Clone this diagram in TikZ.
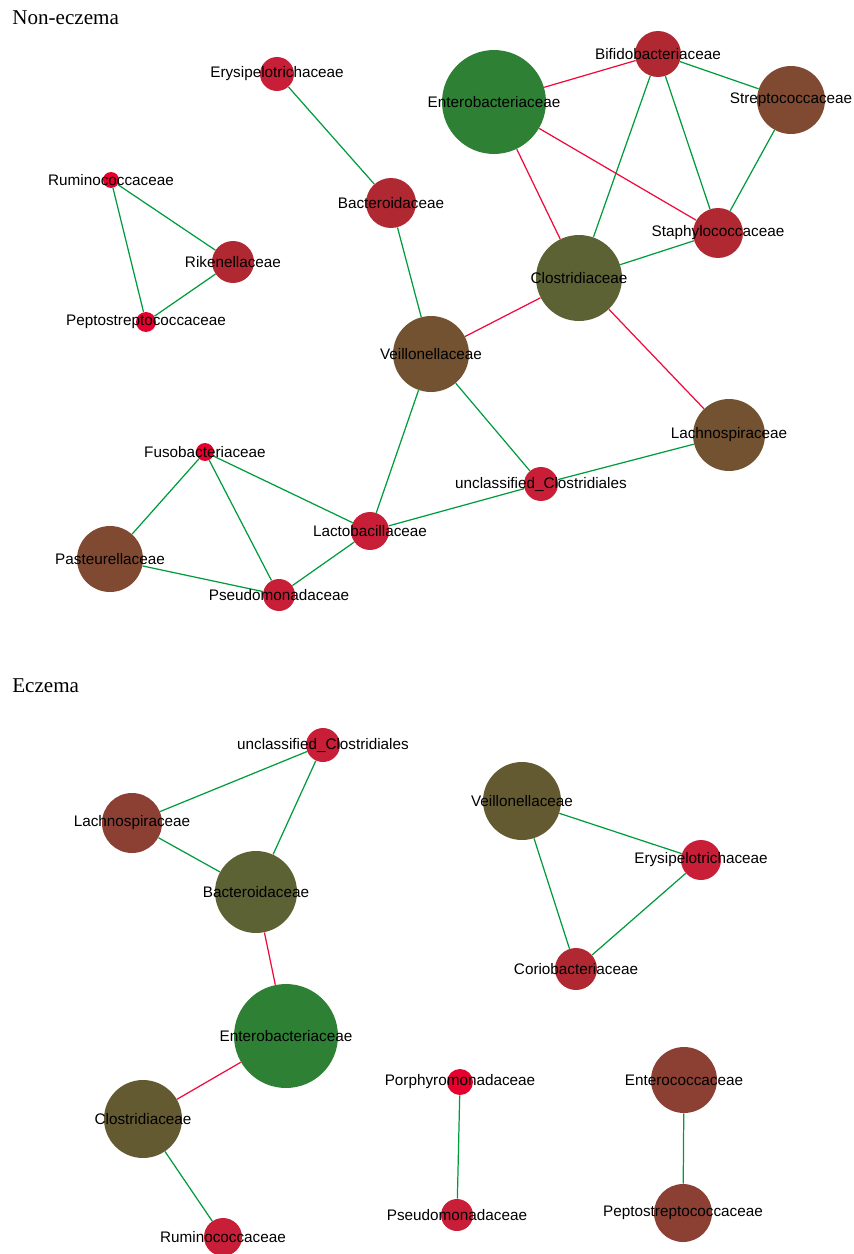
\documentclass[tikz,border=0pt]{standalone}
\usepackage{fontspec}
\setmainfont{Liberation Serif}
\setsansfont{Liberation Sans}
\usetikzlibrary{backgrounds}

\definecolor{linkpos}{RGB}{0,155,60}
\definecolor{linkneg}{RGB}{240,10,60}
\definecolor{cEntero}{RGB}{46,128,52}
\definecolor{cOlive}{RGB}{92,98,52}
\definecolor{cOliveB}{RGB}{100,90,50}
\definecolor{cBrownA}{RGB}{115,82,50}
\definecolor{cBrownB}{RGB}{128,74,50}
\definecolor{cBrownC}{RGB}{140,64,52}
\definecolor{cRedA}{RGB}{176,40,50}
\definecolor{cRedB}{RGB}{200,30,55}
\definecolor{cRedC}{RGB}{230,0,45}

\tikzset{
    taxon/.style={circle,inner sep=0pt,minimum size=#1*0.04cm},
    every label/.style={font=\sffamily\fontsize{8.7}{10}\selectfont,inner sep=0pt},
    poslink/.style={draw=linkpos,line width=0.7pt},
    neglink/.style={draw=linkneg,line width=0.7pt},
    panel/.style={anchor=base west,inner sep=0pt,font=\fontsize{12}{14}\selectfont}
}

\begin{document}
\begin{tikzpicture}[x=0.02cm,y=-0.02cm]
                \useasboundingbox (0,0) rectangle (853,1254);
                \node[panel] (ttlNon) at (12,24) {Non-eczema};
                \node[panel] (ttlEcz) at (12,692) {Eczema};

                % non-eczema
                \node[taxon=17,fill=cRedB,label=center:Erysipelotrichaceae] (nErysi) at (277,74) {};
                \node[taxon=52,fill=cEntero,label=center:Enterobacteriaceae] (nEntero) at (494,102) {};
                \node[taxon=23,fill=cRedA,label=center:Bifidobacteriaceae] (nBifido) at (658,54) {};
                \node[taxon=34,fill=cBrownB,label=center:Streptococcaceae] (nStrepto) at (791,100) {};
                \node[taxon=8,fill=cRedC,label=center:Ruminococcaceae] (nRumino) at (111,180) {};
                \node[taxon=25,fill=cRedA,label=center:Bacteroidaceae] (nBactero) at (391,203) {};
                \node[taxon=25,fill=cRedA,label=center:Staphylococcaceae] (nStaph) at (718,233) {};
                \node[taxon=21,fill=cRedA,label=center:Rikenellaceae] (nRiken) at (233,262) {};
                \node[taxon=43,fill=cOlive,label=center:Clostridiaceae] (nClostr) at (579,278) {};
                \node[taxon=10,fill=cRedC,label=center:Peptostreptococcaceae] (nPepto) at (146,322) {};
                \node[taxon=38,fill=cBrownA,label=center:Veillonellaceae] (nVeill) at (431,354) {};
                \node[taxon=36,fill=cBrownA,label=center:Lachnospiraceae] (nLachno) at (729,435) {};
                \node[taxon=9,fill=cRedC,label=center:Fusobacteriaceae] (nFuso) at (205,452) {};
                \node[taxon=17,fill=cRedB,label=center:unclassified\_Clostridiales] (nUncl) at (541,484) {};
                \node[taxon=19,fill=cRedB,label=center:Lactobacillaceae] (nLacto) at (370,531) {};
                \node[taxon=33,fill=cBrownB,label=center:Pasteurellaceae] (nPasteur) at (110,559) {};
                \node[taxon=16,fill=cRedB,label=center:Pseudomonadaceae] (nPseudo) at (279,595) {};

                % eczema
                \node[taxon=17,fill=cRedB,label=center:unclassified\_Clostridiales] (eUncl) at (323,745) {};
                \node[taxon=30,fill=cBrownC,label=center:Lachnospiraceae] (eLachno) at (132,823) {};
                \node[taxon=39,fill=cOliveB,label=center:Veillonellaceae] (eVeill) at (522,801) {};
                \node[taxon=20,fill=cRedB,label=center:Erysipelotrichaceae] (eErysi) at (701,860) {};
                \node[taxon=41,fill=cOlive,label=center:Bacteroidaceae] (eBactero) at (256,892) {};
                \node[taxon=21,fill=cRedA,label=center:Coriobacteriaceae] (eCorio) at (576,969) {};
                \node[taxon=52,fill=cEntero,label=center:Enterobacteriaceae] (eEntero) at (286,1036) {};
                \node[taxon=13,fill=cRedC,label=center:Porphyromonadaceae] (ePorphyro) at (460,1082) {};
                \node[taxon=33,fill=cBrownC,label=center:Enterococcaceae] (eEnteroc) at (684,1080) {};
                \node[taxon=39,fill=cOliveB,label=center:Clostridiaceae] (eClostr) at (143,1119) {};
                \node[taxon=16,fill=cRedB,label=center:Pseudomonadaceae] (ePseudo) at (457,1215) {};
                \node[taxon=29,fill=cBrownC,label=center:Peptostreptococcaceae] (ePepto) at (683,1213) {};
                \node[taxon=19,fill=cRedB,label=center:Ruminococcaceae] (eRumino) at (223,1237) {};

                \begin{scope}[on background layer]
                \draw[poslink] (nErysi)--(nBactero);
                \draw[poslink] (nBactero)--(nVeill);
                \draw[poslink] (nRumino)--(nRiken);
                \draw[poslink] (nRumino)--(nPepto);
                \draw[poslink] (nRiken)--(nPepto);
                \draw[poslink] (nBifido)--(nStrepto);
                \draw[poslink] (nBifido)--(nClostr);
                \draw[poslink] (nBifido)--(nStaph);
                \draw[poslink] (nStrepto)--(nStaph);
                \draw[poslink] (nClostr)--(nStaph);
                \draw[poslink] (nVeill)--(nLacto);
                \draw[poslink] (nVeill)--(nUncl);
                \draw[poslink] (nUncl)--(nLachno);
                \draw[poslink] (nUncl)--(nLacto);
                \draw[poslink] (nFuso)--(nLacto);
                \draw[poslink] (nFuso)--(nPasteur);
                \draw[poslink] (nFuso)--(nPseudo);
                \draw[poslink] (nPasteur)--(nPseudo);
                \draw[poslink] (nPseudo)--(nLacto);
                \draw[neglink] (nEntero)--(nBifido);
                \draw[neglink] (nEntero)--(nClostr);
                \draw[neglink] (nEntero)--(nStaph);
                \draw[neglink] (nClostr)--(nVeill);
                \draw[neglink] (nClostr)--(nLachno);

                \draw[poslink] (eUncl)--(eLachno);
                \draw[poslink] (eUncl)--(eBactero);
                \draw[poslink] (eLachno)--(eBactero);
                \draw[poslink] (eVeill)--(eErysi);
                \draw[poslink] (eVeill)--(eCorio);
                \draw[poslink] (eErysi)--(eCorio);
                \draw[poslink] (eClostr)--(eRumino);
                \draw[poslink] (ePorphyro)--(ePseudo);
                \draw[poslink] (eEnteroc)--(ePepto);
                \draw[neglink] (eBactero)--(eEntero);
                \draw[neglink] (eEntero)--(eClostr);
                \end{scope}
            \end{tikzpicture}
\end{document}
